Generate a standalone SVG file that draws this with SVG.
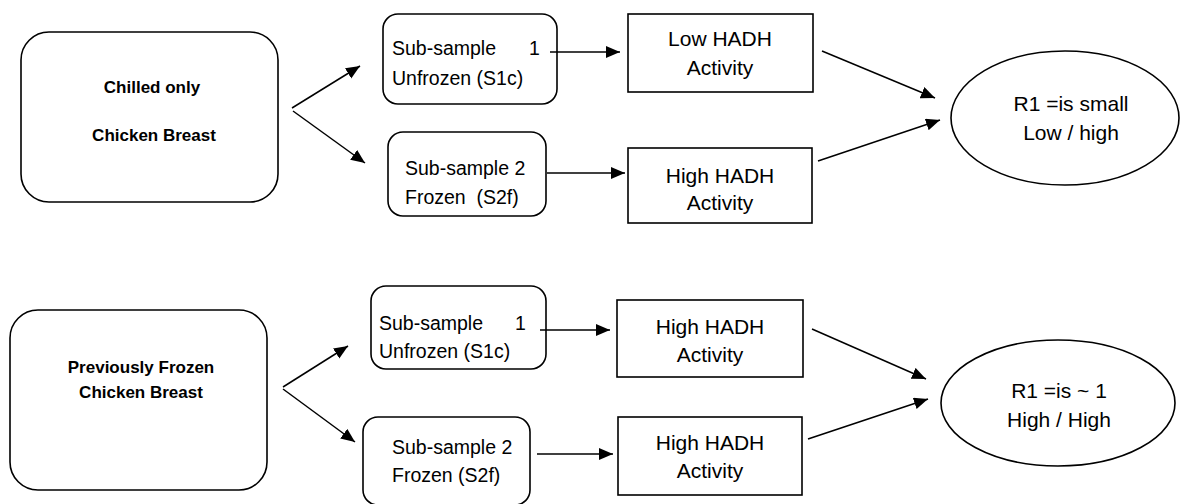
<svg xmlns="http://www.w3.org/2000/svg" width="1181" height="504" viewBox="0 0 1181 504">
<style>
.box{fill:#fff;stroke:#000;stroke-width:1.6}
.edge{fill:none;stroke:#000;stroke-width:1.5}
.t{font-family:"Liberation Sans",Arial,sans-serif;fill:#000}
.b{font-family:"Liberation Sans",Arial,sans-serif;font-weight:bold;font-size:17px;fill:#000;text-anchor:middle}
.s{font-size:19.5px}
.m{font-size:21px;text-anchor:middle}
</style>
<defs>
<marker id="ah" markerUnits="userSpaceOnUse" markerWidth="15" markerHeight="13" refX="14" refY="6" orient="auto">
<path d="M0,0 L14,6 L0,12 z" fill="#000"/>
</marker>
</defs>
<rect width="1181" height="504" fill="#fff"/>
<g id="chilled">
<rect class="box" x="21" y="32" width="257" height="170" rx="28"/>
<text class="b" x="152" y="93">Chilled only</text>
<text class="b" x="154" y="141">Chicken Breast</text>
</g>
<g id="s1c-top">
<rect class="box" x="383" y="14" width="174" height="90" rx="15"/>
<text class="t s" x="392" y="55">Sub-sample <tspan x="529">1</tspan></text>
<text class="t s" x="392" y="85">Unfrozen (S1c)</text>
</g>
<g id="s2f-top">
<rect class="box" x="388" y="132" width="158" height="84" rx="15"/>
<text class="t s" x="405" y="175">Sub-sample 2</text>
<text class="t s" x="405" y="204" xml:space="preserve">Frozen  (S2f)</text>
</g>
<g id="low-hadh">
<rect class="box" x="628" y="14" width="185" height="78"/>
<text class="t m" x="720" y="46">Low HADH</text>
<text class="t m" x="720" y="75">Activity</text>
</g>
<g id="high-hadh-top">
<rect class="box" x="628" y="148" width="184" height="75"/>
<text class="t m" x="720" y="183">High HADH</text>
<text class="t m" x="720" y="210">Activity</text>
</g>
<g id="r1-small">
<ellipse class="box" cx="1065" cy="118" rx="114" ry="67"/>
<text class="t m" x="1071" y="111">R1 =is small</text>
<text class="t m" x="1071" y="140">Low / high</text>
</g>
<g id="prev-frozen">
<rect class="box" x="10" y="310" width="257" height="180" rx="28"/>
<text class="b" x="141" y="373">Previously Frozen</text>
<text class="b" x="141" y="398">Chicken Breast</text>
</g>
<g id="s1c-bottom">
<rect class="box" x="371" y="286" width="175" height="83" rx="15"/>
<text class="t s" x="379" y="330">Sub-sample <tspan x="515">1</tspan></text>
<text class="t s" x="379" y="358">Unfrozen (S1c)</text>
</g>
<g id="s2f-bottom">
<rect class="box" x="363" y="417" width="167" height="88" rx="15"/>
<text class="t s" x="392" y="454">Sub-sample 2</text>
<text class="t s" x="392" y="482">Frozen (S2f)</text>
</g>
<g id="high-hadh-mid">
<rect class="box" x="617" y="300" width="186" height="77"/>
<text class="t m" x="710" y="334">High HADH</text>
<text class="t m" x="710" y="362">Activity</text>
</g>
<g id="high-hadh-bottom">
<rect class="box" x="618" y="417" width="184" height="78"/>
<text class="t m" x="710" y="450">High HADH</text>
<text class="t m" x="710" y="478">Activity</text>
</g>
<g id="r1-one">
<ellipse class="box" cx="1058" cy="403" rx="117" ry="63"/>
<text class="t m" x="1059" y="398">R1 =is ~ 1</text>
<text class="t m" x="1059" y="427">High / High</text>
</g>
<g id="connectors">
<line class="edge" x1="292" y1="108" x2="360" y2="66" marker-end="url(#ah)"/>
<line class="edge" x1="293" y1="111" x2="365" y2="163" marker-end="url(#ah)"/>
<line class="edge" x1="550" y1="52" x2="620" y2="52" marker-end="url(#ah)"/>
<line class="edge" x1="547" y1="173" x2="625" y2="173" marker-end="url(#ah)"/>
<line class="edge" x1="822" y1="51" x2="935" y2="98" marker-end="url(#ah)"/>
<line class="edge" x1="818" y1="161" x2="940" y2="120" marker-end="url(#ah)"/>
<line class="edge" x1="283" y1="387" x2="348" y2="346" marker-end="url(#ah)"/>
<line class="edge" x1="283" y1="389" x2="355" y2="442" marker-end="url(#ah)"/>
<line class="edge" x1="540" y1="330" x2="610" y2="330" marker-end="url(#ah)"/>
<line class="edge" x1="537" y1="454" x2="613" y2="454" marker-end="url(#ah)"/>
<line class="edge" x1="812" y1="329" x2="926" y2="379" marker-end="url(#ah)"/>
<line class="edge" x1="808" y1="439" x2="928" y2="399" marker-end="url(#ah)"/>
</g>
</svg>
